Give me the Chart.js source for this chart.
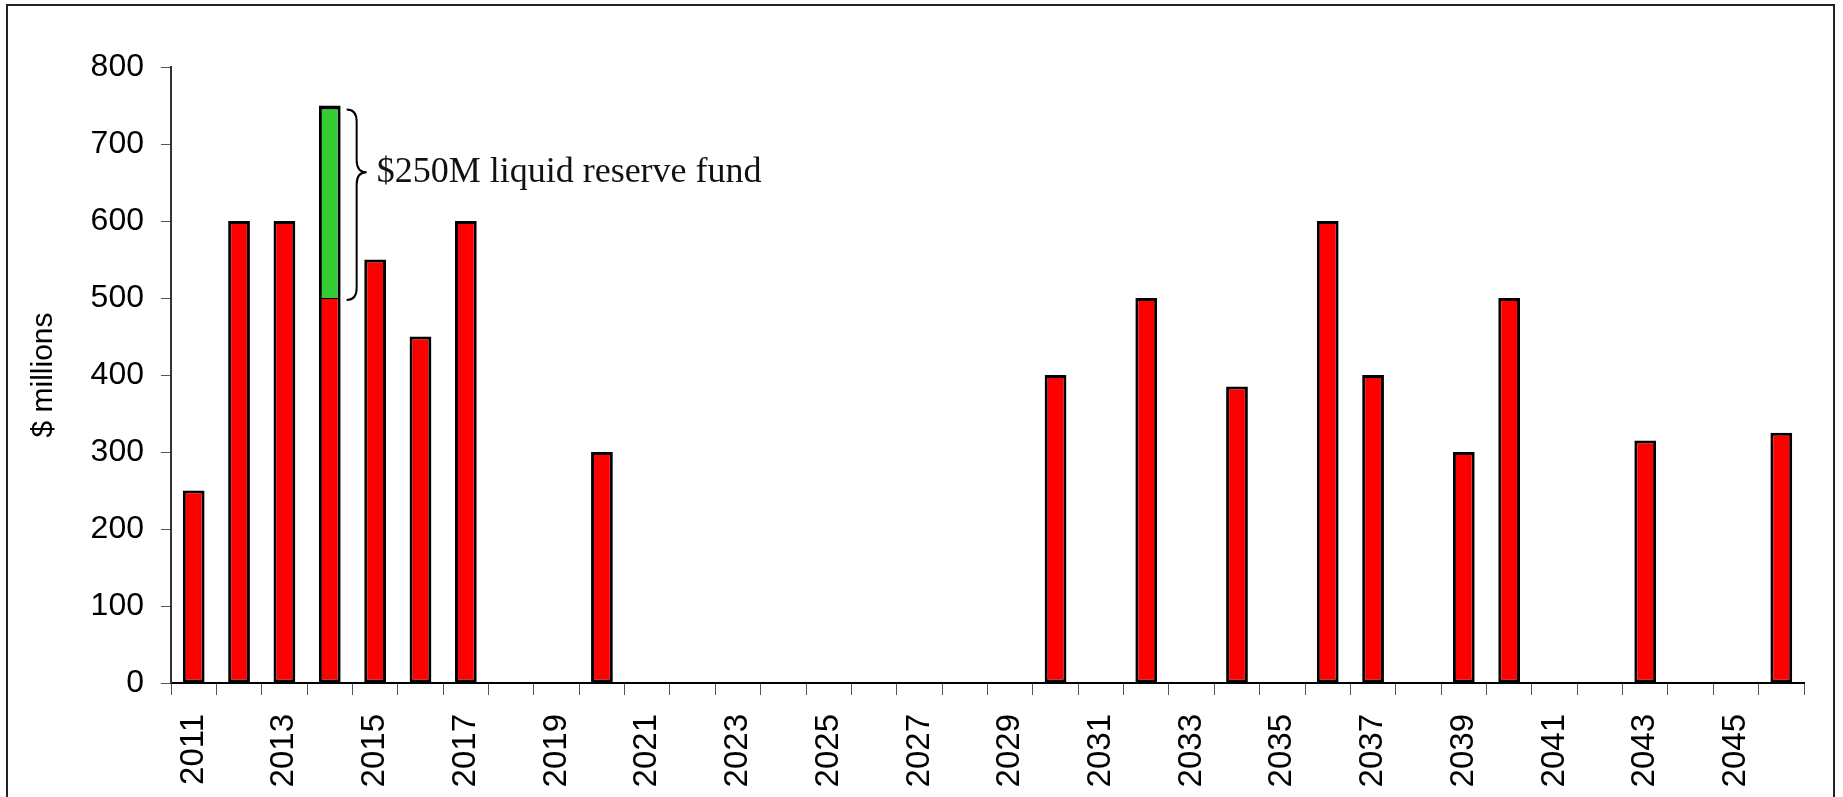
<!DOCTYPE html>
<html>
<head>
<meta charset="utf-8">
<script src="https://cdn.jsdelivr.net/npm/chart.js@4.4.1/dist/chart.umd.min.js"></script>
<style>
  html, body { margin: 0; padding: 0; background: #fff; overflow: hidden; }
  #frame {
    position: absolute; left: 6px; top: 4px; width: 1829px; height: 900px;
    border: 2px solid #222; box-sizing: border-box;
  }
  #chart { position: absolute; left: 0; top: 0; }
</style>
</head>
<body>
<div id="frame"></div>
<canvas id="chart" width="1843" height="797"></canvas>
<script>
const years = ['2011', '2012', '2013', '2014', '2015', '2016', '2017', '2018', '2019', '2020',
    '2021', '2022', '2023', '2024', '2025', '2026', '2027', '2028', '2029', '2030',
    '2031', '2032', '2033', '2034', '2035', '2036', '2037', '2038', '2039', '2040',
    '2041', '2042', '2043', '2044', '2045', '2046'];

// maturing debt, $ millions
const debtValues = [250, 600, 600, 500, 550, 450, 600, null, null, 300,
    null, null, null, null, null, null, null, null, null, 400,
    null, 500, null, 385, null, 600, 400, null, 300, 500,
    null, null, 315, null, null, 325];

// liquid reserve fund on top of 2014
const reserveValues = [null, null, null, 250, null, null, null, null, null, null,
    null, null, null, null, null, null, null, null, null, null,
    null, null, null, null, null, null, null, null, null, null,
    null, null, null, null, null, null];

const yTicks = [0, 100, 200, 300, 400, 500, 600, 700, 800];
const noteText = '$250M liquid reserve fund';

const sans = 'Liberation Sans, Arial, sans-serif';

const braceNote = {
    id: 'braceNote',
    afterDatasetsDraw(chart) {
        const bar = chart.getDatasetMeta(1).data[3];
        if (!bar) return;
        const ctx = chart.ctx;
        const xL = bar.x + bar.width / 2 + 6;
        const w = 20;
        const r = 12;
        const yTop = bar.y + 4;
        const yBot = bar.base + 2;
        const yTip = yTop + (yBot - yTop) * 0.33;
        ctx.save();
        ctx.strokeStyle = '#000';
        ctx.lineWidth = 2;
        ctx.beginPath();
        ctx.moveTo(xL, yTop);
        ctx.quadraticCurveTo(xL + w / 2, yTop, xL + w / 2, yTop + r);
        ctx.lineTo(xL + w / 2, yTip - r);
        ctx.quadraticCurveTo(xL + w / 2, yTip, xL + w, yTip);
        ctx.quadraticCurveTo(xL + w / 2, yTip, xL + w / 2, yTip + r);
        ctx.lineTo(xL + w / 2, yBot - r);
        ctx.quadraticCurveTo(xL + w / 2, yBot, xL, yBot);
        ctx.stroke();
        ctx.fillStyle = '#111';
        ctx.font = '36px "Liberation Serif", "Times New Roman", serif';
        ctx.textBaseline = 'middle';
        ctx.textAlign = 'left';
        ctx.fillText(noteText, xL + w + 10, yTip);
        ctx.restore();
    }
};

new Chart(document.getElementById('chart'), {
    type: 'bar',
    data: {
        labels: years,
        datasets: [{
            label: 'Debt',
            data: debtValues,
            backgroundColor: '#FF0000',
            borderColor: '#000',
            borderWidth: c => c.dataIndex === 3 ? { top: 1, left: 3, right: 3, bottom: 3 } : 3,
            borderSkipped: false,
            categoryPercentage: 1,
            barPercentage: 0.48
        }, {
            label: 'Reserve',
            data: reserveValues,
            backgroundColor: '#33CC33',
            borderColor: '#000',
            borderWidth: { top: 4, left: 3, right: 3, bottom: 0 },
            borderSkipped: false,
            categoryPercentage: 1,
            barPercentage: 0.48
        }]
    },
    options: {
        responsive: false,
        animation: false,
        layout: { padding: { top: 67, right: 39, left: 0, bottom: 0 } },
        plugins: {
            legend: { display: false },
            tooltip: { enabled: false }
        },
        scales: {
            x: {
                stacked: true,
                offset: true,
                grid: { offset: true, drawOnChartArea: false, drawTicks: true, tickLength: 12, color: '#555' },
                border: { color: '#000', width: 2 },
                ticks: {
                    autoSkip: false,
                    minRotation: 90,
                    maxRotation: 90,
                    padding: 19,
                    color: '#000',
                    font: { family: sans, size: 33 },
                    callback: (v, i) => (i % 2 === 0 ? years[i] : '')
                },
                afterFit: s => { s.height = 114; }
            },
            y: {
                stacked: true,
                min: yTicks[0],
                max: yTicks[yTicks.length - 1],
                grid: { drawOnChartArea: false, drawTicks: true, tickLength: 10, color: '#555' },
                border: { color: '#333', width: 2 },
                afterBuildTicks: s => { s.ticks = yTicks.map(v => ({ value: v })); },
                ticks: {
                    padding: 17,
                    color: '#000',
                    font: { family: sans, size: 32 }
                },
                title: {
                    display: true,
                    text: '$ millions',
                    color: '#000',
                    font: { family: sans, size: 30 },
                    padding: { top: 26, bottom: 0 }
                },
                afterFit: s => { s.width = 171; }
            }
        }
    },
    plugins: [braceNote]
});
</script>
</body>
</html>
